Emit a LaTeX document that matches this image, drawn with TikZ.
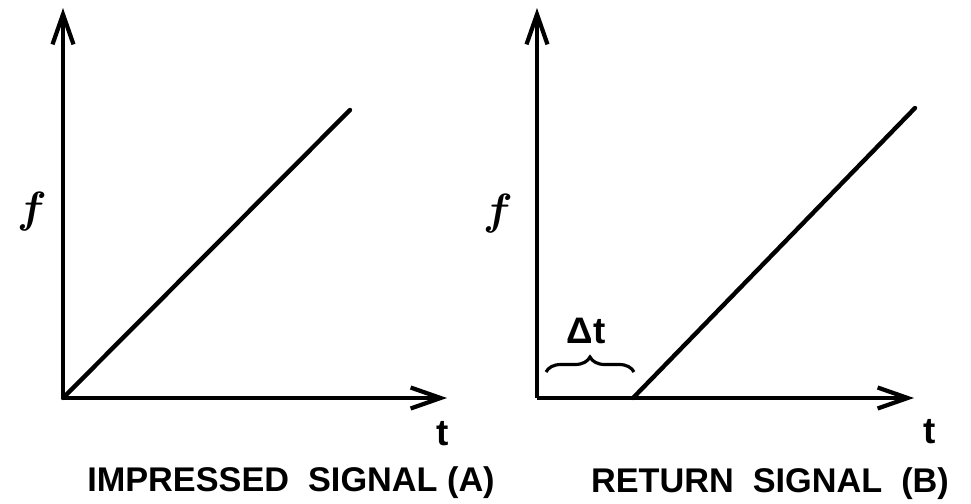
\documentclass[tikz,border=0pt]{standalone}
\usepackage{fontspec}
\setmainfont{Liberation Sans}
\usetikzlibrary{arrows.meta, decorations.pathreplacing}

\begin{document}
\begin{tikzpicture}[
  x=0.02cm, y=-0.02cm,
  >={Straight Barb[length=0.6cm, width=0.42cm, line width=2.4pt]},
  %-- styles -------------------------------------------------------------
  axis/.style     = {->, line width=2.8pt},
  ramp/.style     = {line width=2.5pt, line cap=round},
  axlab/.style    = {font=\fontsize{21}{24}\selectfont\bfseries},
  flab/.style     = {font=\fontsize{30}{32}\selectfont\boldmath},
  caption/.style  = {font=\fontsize{19.5}{24}\selectfont\bfseries},
  delay/.style    = {line width=1.8pt, decorate,
                     decoration={brace, amplitude=0.3cm}},
]
\useasboundingbox (0,0) rectangle (971,504);

% ── Impressed signal (A) ─────────────────────────────────────────────────────
\coordinate (oA)   at (63,398);
\coordinate (topA) at (63,8);
\coordinate (endA) at (447,398);
\coordinate (rampA) at (350,110);

\draw[axis] (oA) -- (topA);
\draw[axis] (oA) -- (endA);
\draw[ramp] (oA) -- (rampA);

\node[flab]  (fA) at (32,212) {$f$};
\node[axlab] (tA) at (443,434) {t};
\node[caption] (capA) at (291,483) {IMPRESSED\ \ SIGNAL\ (A)};

% ── Return signal (B) ────────────────────────────────────────────────────────
\coordinate (oB)     at (537,398);
\coordinate (topB)   at (537,8);
\coordinate (endB)   at (914,398);
\coordinate (startB) at (633,398);
\coordinate (rampB)  at (915,108);

\draw[axis] (oB) -- (topB);
\draw[axis] (oB) -- (endB);
\draw[ramp] (startB) -- (rampB);

\node[flab]  (fB) at (498,214) {$f$};
\node[axlab] (tB) at (930,432) {t};
\node[caption] (capB) at (770,484) {RETURN\ \ SIGNAL\ \ (B)};

% ── Delay ────────────────────────────────────────────────────────────────────
\coordinate (dl) at (546,372);
\coordinate (dr) at (634,372);
\draw[delay] (dl) -- (dr);
\node[axlab] (dt) at (586,331) {Δt};

\end{tikzpicture}
\end{document}
